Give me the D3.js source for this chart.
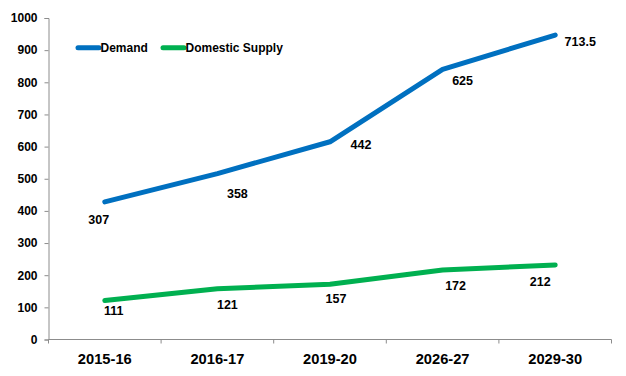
<!DOCTYPE html>
<html>
<head>
<meta charset="utf-8">
<style>
  body { margin: 0; background: #fff; }
  svg { display: block; font-family: "Liberation Sans", Arial, sans-serif; }
</style>
</head>
<body>
<svg width="626" height="376"></svg>

<script src="https://d3js.org/d3.v7.min.js"></script>
<script>
  // categories on the x axis
  const years = ["2015-16", "2016-17", "2019-20", "2026-27", "2029-30"]

  // plotted line values
  const demand = [428, 516, 615, 840, 947]
  const supply = [121, 158, 172, 216, 232]

  // the printed data labels (they do not sit on the line values)
  const demandLabels = ["307", "358", "442", "625", "713.5"]
  const supplyLabels = ["111", "121", "157", "172", "212"]

  const yTicks = [0, 100, 200, 300, 400, 500, 600, 700, 800, 900, 1000]

  // label nudges from the point, in px
  const demandNudge = [[-6, 18], [20, 20], [31, 3], [20, 11], [25, 7]]
  const supplyNudge = [[9, 10], [10, 16], [6, 14], [13, 16], [-15, 17]]

  const blue = "#0070C0"
  const green = "#00B050"
  const axisGrey = "#8c8c8c"

  const margin = {left: 48.5, right: 14.5, top: 18, bottom: 36.5}
  const width = 626, height = 376

  const svg = d3.select("svg")

  const x = d3.scaleBand()
    .domain(years)
    .range([margin.left, width - margin.right])

  const y = d3.scaleLinear()
    .domain([0, 1000])
    .range([height - margin.bottom, margin.top])

  // y axis
  const yAxis = svg.append("g")
    .attr("transform", `translate(${margin.left},0)`)
    .call(d3.axisLeft(y).tickValues(yTicks).tickFormat(d3.format("d")).tickSize(4).tickPadding(7))
  yAxis.select(".domain").attr("stroke", axisGrey)
  yAxis.selectAll(".tick line").attr("stroke", axisGrey)
  yAxis.selectAll(".tick text")
    .attr("fill", "#000")
    .attr("font-size", 12)
    .attr("font-weight", "bold")
    .attr("font-family", "Liberation Sans, Arial, sans-serif")

  // x axis - ticks sit on the band boundaries
  const xAxisG = svg.append("g")
    .attr("transform", `translate(0,${y(0)})`)
  xAxisG.append("line")
    .attr("x1", margin.left).attr("x2", width - margin.right)
    .attr("stroke", axisGrey)
  const bounds = years.map(d => x(d)).concat([x(years[years.length - 1]) + x.bandwidth()])
  xAxisG.selectAll(".xt")
    .data(bounds)
    .join("line")
      .attr("class", "xt")
      .attr("x1", d => d).attr("x2", d => d)
      .attr("y1", 0).attr("y2", 4)
      .attr("stroke", axisGrey)
  xAxisG.selectAll(".xl")
    .data(years)
    .join("text")
      .attr("class", "xl")
      .attr("x", d => x(d) + x.bandwidth() / 2)
      .attr("y", 24)
      .attr("text-anchor", "middle")
      .attr("font-size", 14.7)
      .attr("font-weight", "bold")
      .text(d => d)

  const cx = d => x(d) + x.bandwidth() / 2

  const line = d3.line()
    .x((d, i) => cx(years[i]))
    .y(d => y(d))

  const drawSeries = (vals, labels, nudge, color) => {
    svg.append("path")
      .datum(vals)
      .attr("d", line)
      .attr("fill", "none")
      .attr("stroke", color)
      .attr("stroke-width", 5)
      .attr("stroke-linejoin", "round")
      .attr("stroke-linecap", "round")

    svg.append("g").selectAll("text")
      .data(labels)
      .join("text")
        .attr("x", (d, i) => cx(years[i]) + nudge[i][0])
        .attr("y", (d, i) => y(vals[i]) + nudge[i][1])
        .attr("dy", "0.35em")
        .attr("text-anchor", "middle")
        .attr("font-size", 12.5)
        .attr("font-weight", "bold")
        .text(d => d)
  }

  drawSeries(demand, demandLabels, demandNudge, blue)
  drawSeries(supply, supplyLabels, supplyNudge, green)

  // legend
  const legend = [
    {name: "Demand", color: blue, x: 78},
    {name: "Domestic Supply", color: green, x: 163}
  ]
  const lg = svg.append("g").selectAll("g")
    .data(legend)
    .join("g")
      .attr("transform", d => `translate(${d.x},47.7)`)
  lg.append("line")
    .attr("x1", 0).attr("x2", 21)
    .attr("stroke", d => d.color)
    .attr("stroke-width", 5)
    .attr("stroke-linecap", "round")
  lg.append("text")
    .attr("x", 22.5)
    .attr("dy", "0.35em")
    .attr("font-size", 12)
    .attr("font-weight", "bold")
    .text(d => d.name)
</script>
</body>
</html>
